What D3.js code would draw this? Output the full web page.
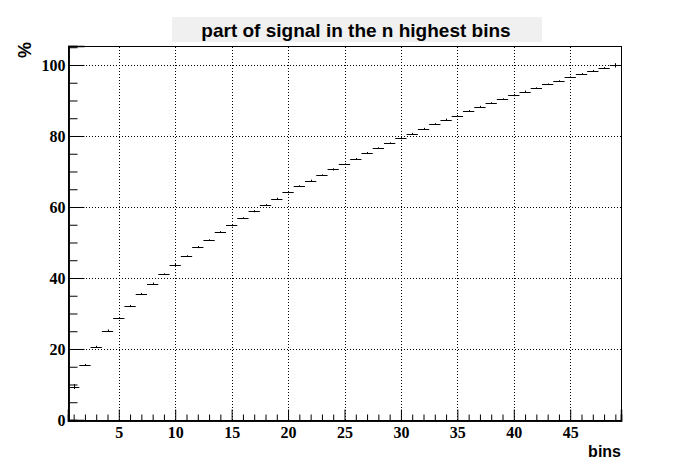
<!DOCTYPE html>
<html><head><meta charset="utf-8">
<script src="https://cdn.jsdelivr.net/npm/d3@7"></script>
<style>html,body{margin:0;padding:0;background:#fff;}svg{display:block;}</style>
</head><body>
<script>
const title = "part of signal in the n highest bins";
const xLabel = "bins";
const yLabel = "%";
const bins = d3.range(1, 50);
const values = [9.4,15.5,20.6,25.2,28.7,32.1,35.5,38.4,41.1,43.7,
  46.2,48.7,50.7,53.0,54.9,56.9,58.8,60.6,62.3,64.2,
  65.9,67.4,69.0,70.6,72.1,73.6,75.2,76.6,78.0,79.4,
  80.6,82.1,83.4,84.6,85.7,87.1,88.2,89.3,90.4,91.5,
  92.5,93.5,94.6,95.5,96.6,97.5,98.4,99.2,99.9];
const errors = [0.7,0.3,0.3,0.3,0.2,0.3,0.3,0.3,0.2,0.3,
  0.2,0.3,0.2,0.2,0.3,0.2,0.3,0.2,0.3,0.3,
  0.2,0.3,0.2,0.3,0.2,0.2,0.3,0.2,0.2,0.3,
  0.3,0.2,0.2,0.3,0.2,0.2,0.3,0.2,0.2,0.3,
  0.3,0.2,0.2,0.2,0.2,0.2,0.2,0.2,0.6];
const xMajorTicks = [5,10,15,20,25,30,35,40,45];
const yMajorTicks = [0,20,40,60,80,100];

const W = 689, H = 467;
const L = 68, R = 621, T = 46, B = 420;
const svg = d3.select("body").append("svg").attr("width", W).attr("height", H);

const x = d3.scaleLinear().domain([0.5, 49.5]).range([L, R]);
const y = d3.scaleLinear().domain([0, 105.35]).range([B, T]);

// grid
const grid = svg.append("g").attr("stroke", "#000").attr("stroke-width", 1).attr("stroke-dasharray", "1,2");
grid.selectAll(".gx").data(xMajorTicks).enter().append("line")
  .attr("x1", d => Math.round(x(d)) + 0.5).attr("x2", d => Math.round(x(d)) + 0.5)
  .attr("y1", B).attr("y2", T);
grid.selectAll(".gy").data(yMajorTicks.filter(d => d > 0)).enter().append("line")
  .attr("y1", d => Math.round(y(d)) + 0.5).attr("y2", d => Math.round(y(d)) + 0.5)
  .attr("x1", L).attr("x2", R);

// frame
svg.append("rect").attr("x", L + 0.5).attr("y", T + 0.5).attr("width", R - L).attr("height", B - T)
  .attr("fill", "none").attr("stroke", "#000").attr("stroke-width", 1);

const serif = "'Liberation Serif','Times New Roman',serif";
const sans = "'Liberation Sans',Arial,sans-serif";

// x axis ticks (inward)
const xMinor = d3.range(1, 50);
const xAxisMajor = d3.axisBottom(x).tickValues(xMajorTicks).tickSize(-11).tickFormat(d3.format("d"));
const xAxisMinor = d3.axisBottom(x).tickValues(xMinor.filter(v => v % 5 !== 0)).tickSize(-6).tickFormat("");
const gxm = svg.append("g").attr("transform", `translate(0,${B + 0.5})`).call(xAxisMinor);
const gx = svg.append("g").attr("transform", `translate(0,${B + 0.5})`).call(xAxisMajor);
[gx, gxm].forEach(g => { g.select(".domain").attr("stroke", "#000").attr("stroke-width", 1.5); g.selectAll(".tick line").attr("stroke", "#000"); });
gx.selectAll(".tick text").attr("font-family", serif)
  .attr("font-weight", "bold").attr("font-size", 16).attr("fill", "#000").attr("dy", "0").attr("y", 17);

// y axis ticks (inward)
const yMinor = d3.range(0, 106, 5).filter(v => v % 20 !== 0);
const yAxisMajor = d3.axisLeft(y).tickValues(yMajorTicks).tickSize(-16).tickFormat(d3.format("d"));
const yAxisMinor = d3.axisLeft(y).tickValues(yMinor).tickSize(-9).tickFormat("");
const gym = svg.append("g").attr("transform", `translate(${L + 0.5},0)`).call(yAxisMinor);
const gy = svg.append("g").attr("transform", `translate(${L + 0.5},0)`).call(yAxisMajor);
[gy, gym].forEach(g => { g.select(".domain").attr("stroke", "#000").attr("stroke-width", 1.5); g.selectAll(".tick line").attr("stroke", "#000"); });
gy.selectAll(".tick text").attr("font-family", serif)
  .attr("font-weight", "bold").attr("font-size", 16).attr("fill", "#000").attr("x", -3);

// histogram (E style)
const hist = svg.append("g").attr("stroke", "#000").attr("stroke-width", 1);
hist.selectAll(".h").data(bins).enter().append("line")
  .attr("x1", (d) => x(d - 0.5)).attr("x2", (d) => x(d + 0.5))
  .attr("y1", (d, i) => Math.round(y(values[i])) + 0.5).attr("y2", (d, i) => Math.round(y(values[i])) + 0.5);
hist.selectAll(".e").data(bins).enter().append("line")
  .attr("x1", d => Math.round(x(d)) + 0.5).attr("x2", d => Math.round(x(d)) + 0.5)
  .attr("y1", (d, i) => y(values[i] - errors[i])).attr("y2", (d, i) => y(values[i] + errors[i]));

// title box
const titleBox = svg.append("g");
titleBox.append("rect").attr("x", 172).attr("y", 17).attr("width", 370).attr("height", 25).attr("fill", "#f0f0f0");
titleBox.append("text").attr("x", 356).attr("y", 37).attr("text-anchor", "middle")
  .attr("font-family", sans).attr("font-weight", "bold").attr("font-size", 19)
  .attr("fill", "#000").text(title);

// axis labels
svg.append("text").attr("x", R).attr("y", 457).attr("text-anchor", "end")
  .attr("font-family", sans).attr("font-weight", "bold").attr("font-size", 16)
  .attr("fill", "#000").text(xLabel);
svg.append("text").attr("transform", `translate(31,${T - 4}) rotate(-90)`).attr("text-anchor", "end")
  .attr("font-family", sans).attr("font-weight", "bold").attr("font-size", 18)
  .attr("fill", "#000").text(yLabel);
</script>
</body></html>
